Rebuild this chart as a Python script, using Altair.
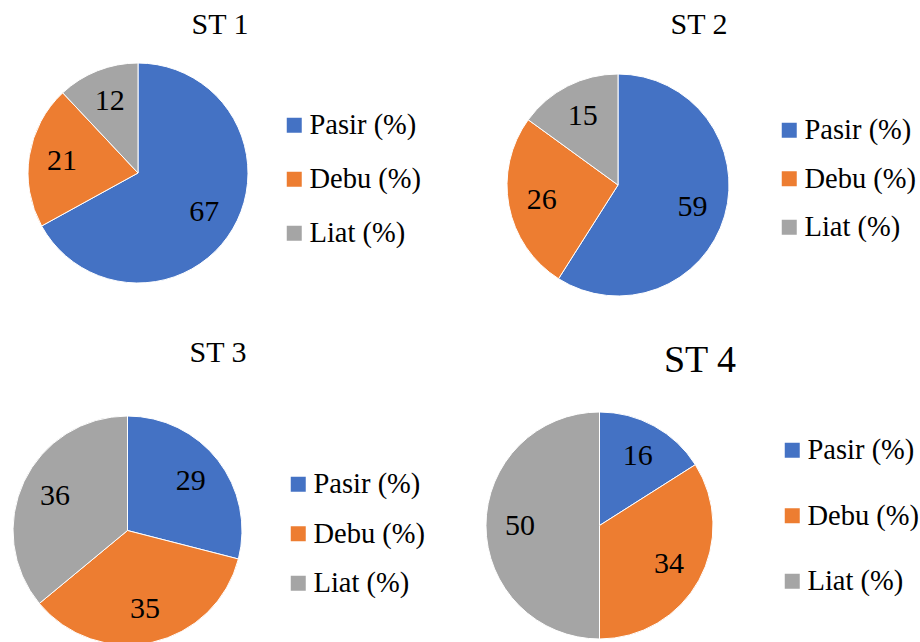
import altair as alt
import pandas as pd

categories = ["Pasir (%)", "Debu (%)", "Liat (%)"]
st1 = [67, 21, 12]
st2 = [59, 26, 15]
st3 = [29, 35, 36]
st4 = [16, 34, 50]
titles = ["ST 1", "ST 2", "ST 3", "ST 4"]
colors = ["#4472C4", "#ED7D31", "#A5A5A5"]

FONT = "'Liberation Serif', 'Times New Roman', Times, serif"

# layout per pie: center x, center y, radius, title x, title y, title size,
# legend x, legend y, legend row padding
layouts = [
    dict(cx=138, cy=173, r=110, tx=220, ty=34, ts=30, lx=280, ly=111, rp=25),
    dict(cx=618, cy=185, r=111, tx=699, ty=34, ts=30, lx=775, ly=116, rp=19.5),
    dict(cx=127.5, cy=530.5, r=114.5, tx=218, ty=362, ts=30, lx=284, ly=470, rp=20.5),
    dict(cx=599.5, cy=525.5, r=113.5, tx=700, ty=372, ts=38, lx=778, ly=436, rp=36.5),
]


def pie(values, title, L):
    df = pd.DataFrame({"cat": categories, "val": values, "ord": [0, 1, 2]})
    base = alt.Chart(df).encode(
        theta=alt.Theta("val:Q", stack=True),
        order=alt.Order("ord:Q"),
        x=alt.value(L["cx"]),
        y=alt.value(L["cy"]),
    )
    arc = base.mark_arc(radius=L["r"], stroke="white", strokeWidth=1).encode(
        color=alt.Color(
            "cat:N",
            scale=alt.Scale(domain=categories, range=colors),
            sort=categories,
            legend=alt.Legend(
                orient="none",
                legendX=L["lx"],
                legendY=L["ly"],
                title=None,
                symbolType="square",
                symbolSize=225,
                symbolStrokeWidth=0,
                labelFont=FONT,
                labelFontSize=28.5,
                labelColor="black",
                labelOffset=1,
                labelLimit=400,
                rowPadding=L["rp"],
                padding=0,
            ),
        )
    )
    text = base.mark_text(
        radius=0.7 * L["r"], font=FONT, fontSize=30, color="black",
        align="center", baseline="middle",
    ).encode(text="val:Q")
    ttl = alt.Chart(pd.DataFrame({"t": [title]})).mark_text(
        font=FONT, fontSize=L["ts"], color="black", align="center", baseline="alphabetic"
    ).encode(text="t:N", x=alt.value(L["tx"]), y=alt.value(L["ty"]))
    return alt.layer(arc, text, ttl)


chart = alt.layer(
    pie(st1, titles[0], layouts[0]),
    pie(st2, titles[1], layouts[1]),
    pie(st3, titles[2], layouts[2]),
    pie(st4, titles[3], layouts[3]),
).resolve_scale(theta="independent", color="independent").properties(
    width=920, height=642, padding=0, autosize=alt.AutoSizeParams(type="none"),
    background="white",
).configure_view(stroke=None)

chart.save("out.html", embed_options={"renderer": "svg", "actions": False})
